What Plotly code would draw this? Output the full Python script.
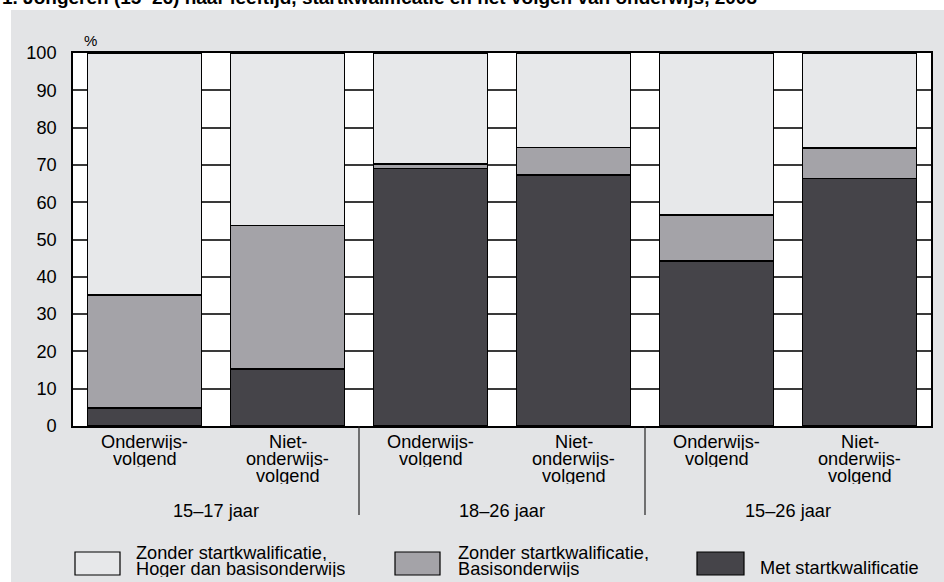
import plotly.graph_objects as go

# data (%)
categories = [
    ["Onderwijs-", "volgend"],
    ["Niet-", "onderwijs-", "volgend"],
    ["Onderwijs-", "volgend"],
    ["Niet-", "onderwijs-", "volgend"],
    ["Onderwijs-", "volgend"],
    ["Niet-", "onderwijs-", "volgend"],
]
groups = ["15–17 jaar", "18–26 jaar", "15–26 jaar"]
met_start = [4.8, 15.3, 69.0, 67.3, 44.2, 66.4]
basis = [30.3, 38.5, 1.2, 7.4, 12.4, 8.1]
hoger = [64.9, 46.2, 29.8, 25.3, 43.4, 25.5]

series_names = ["Zonder startkwalificatie,<br>Hoger dan basisonderwijs",
                "Zonder startkwalificatie,<br>Basisonderwijs",
                "Met startkwalificatie"]
colors = ["#e7e8ea", "#a4a3a8", "#454449"]

W, H = 944, 582
L, R, T, B = 73, 13, 53, 156
PW, PH = W - L - R, H - T - B
FS = 18.2


def xp(p):
    return (p - L) / PW


def yp(p):
    return (H - B - p) / PH


x = list(range(len(categories)))
fig = go.Figure()
for vals, col in [(met_start, colors[2]), (basis, colors[1]), (hoger, colors[0])]:
    fig.add_trace(go.Bar(x=x, y=vals, width=0.8, marker=dict(color=col, line=dict(color="black", width=1.5)),
                         showlegend=False, hoverinfo="y"))

shapes = [
    # grey page background and white plot area
    dict(type="rect", xref="paper", yref="paper", x0=xp(11), x1=xp(W + 2), y0=yp(H + 2), y1=yp(10),
         fillcolor="#e3e4e6", line=dict(width=0), layer="below"),
    dict(type="rect", xref="paper", yref="paper", x0=0, x1=1, y0=0, y1=1,
         fillcolor="white", line=dict(width=0), layer="below"),
]
# separators between age groups
for i in range(1, len(groups)):
    shapes.append(dict(type="line", xref="x", yref="paper", x0=2 * i - 0.5, x1=2 * i - 0.5,
                       y0=0, y1=yp(515), line=dict(color="#222", width=1.2)))

annotations = []
# category labels, one annotation per line to keep the tight line spacing
for i, lines in enumerate(categories):
    for j, line in enumerate(lines):
        annotations.append(dict(x=i, xref="x", y=yp(442 + 17 * j), yref="paper", text=line,
                                showarrow=False, yanchor="middle", height=16, borderpad=0,
                                font=dict(size=FS)))
for g, name in enumerate(groups):
    annotations.append(dict(x=2 * g + 0.5, xref="x", y=yp(511), yref="paper", text=name,
                            showarrow=False, yanchor="middle", font=dict(size=FS)))

annotations.append(dict(x=xp(82), y=yp(30), xref="paper", yref="paper", text="%", showarrow=False,
                        font=dict(size=15)))
annotations.append(dict(x=xp(0), y=yp(-2), xref="paper", yref="paper", xanchor="left", yanchor="middle",
                        text="<b>1. Jongeren (15–26) naar leeftijd, startkwalificatie en het volgen van onderwijs, 2003</b>",
                        showarrow=False, font=dict(size=19)))

# legend drawn by hand
leg_boxes = [(75, 120, 135), (395, 440, 457), (697, 744, 759)]
for k, (bx0, bx1, tx) in enumerate(leg_boxes):
    shapes.append(dict(type="rect", xref="paper", yref="paper", x0=xp(bx0), x1=xp(bx1),
                       y0=yp(575), y1=yp(552), fillcolor=colors[k], line=dict(color="black", width=1.2)))
    parts = series_names[k].split("<br>")
    ys = [553, 569] if len(parts) == 2 else [568]
    for part, yy in zip(parts, ys):
        annotations.append(dict(x=xp(tx), y=yp(yy), xref="paper", yref="paper", xanchor="left",
                                yanchor="middle", text=part, showarrow=False, height=16, borderpad=0,
                                font=dict(size=FS)))

fig.update_layout(
    width=W, height=H,
    margin=dict(l=L, r=R, t=T, b=B),
    barmode="stack",
    paper_bgcolor="white",
    plot_bgcolor="rgba(0,0,0,0)",
    font=dict(family="Liberation Sans, Arial, sans-serif", color="black", size=FS),
    shapes=shapes,
    annotations=annotations,
    xaxis=dict(range=[-0.5, 5.5], showticklabels=False, showgrid=False, zeroline=False,
               showline=True, linecolor="black", linewidth=1.5, mirror=True),
    yaxis=dict(range=[0, 100], dtick=10, showgrid=True, gridcolor="#3a3a3a", gridwidth=1.5,
               zeroline=False, showline=True, linecolor="black", linewidth=1.5, mirror=True,
               ticks="", ticklabelstandoff=11, tickfont=dict(size=FS)),
)

fig.write_html("out.html", config={"displayModeBar": False},
               post_script="document.body.style.margin='0';")
